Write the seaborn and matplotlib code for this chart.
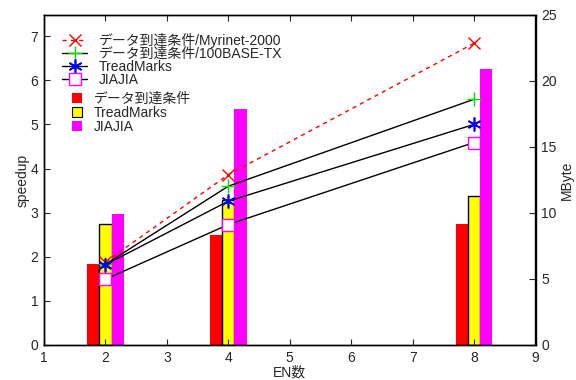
import numpy as np
import pandas as pd
import matplotlib
matplotlib.use("Agg")
import matplotlib.pyplot as plt
from matplotlib.lines import Line2D
from matplotlib.patches import Patch
import seaborn as sns

# ---- data ----
en_counts = [2, 4, 8]
speedup_myrinet = [1.88, 3.86, 6.84]
speedup_100base = [1.83, 3.60, 5.57]
speedup_treadmarks = [1.82, 3.26, 5.00]
speedup_jiajia = [1.49, 2.73, 4.59]

mbyte_condition = [6.1, 8.3, 9.2]
mbyte_treadmarks = [9.2, 11.0, 11.3]
mbyte_jiajia = [9.9, 17.9, 20.9]

line_labels = ["データ到達条件/Myrinet-2000", "データ到達条件/100BASE-TX", "TreadMarks", "JIAJIA"]
bar_labels = ["データ到達条件", "TreadMarks", "JIAJIA"]

sns.set_style("ticks")
plt.rcParams["font.family"] = ["Liberation Sans", "Noto Sans CJK JP", "DejaVu Sans"]
plt.rcParams["font.size"] = 10

fig = plt.figure(figsize=(5.76, 3.8), dpi=100)
ax = fig.add_axes([44 / 576, 1 - 345 / 380, (535.5 - 44) / 576, (345 - 15) / 380])
ax2 = ax.twinx()

# bars on right axis (MByte)
bars_df = pd.DataFrame({
    "EN": en_counts * 3,
    "MB": mbyte_condition + mbyte_treadmarks + mbyte_jiajia,
    "series": [bar_labels[0]] * 3 + [bar_labels[1]] * 3 + [bar_labels[2]] * 3,
})
bar_colors = ["#ff0000", "#ffff00", "#ff00ff"]
sns.barplot(data=bars_df, x="EN", y="MB", hue="series", hue_order=bar_labels,
            palette=bar_colors, native_scale=True, width=0.3, dodge=True,
            saturation=1, ax=ax2, legend=False, linewidth=0)
for p in ax2.patches:
    fc = p.get_facecolor()
    if fc[0] > 0.9 and fc[1] > 0.9 and fc[2] < 0.1:
        p.set_edgecolor("black")
        p.set_linewidth(1.0)

# lines on left axis (speedup), drawn above bars
ax.set_zorder(ax2.get_zorder() + 1)
ax.patch.set_visible(False)

line_df = pd.DataFrame({"EN": en_counts, "myr": speedup_myrinet, "fe": speedup_100base,
                        "tm": speedup_treadmarks, "jj": speedup_jiajia})
sns.lineplot(data=line_df, x="EN", y="myr", ax=ax, color="red", linestyle=(0, (3, 3)),
             linewidth=1.0, marker="x", markersize=8, markeredgewidth=1.0, markeredgecolor="red")
sns.lineplot(data=line_df, x="EN", y="fe", ax=ax, color="black", linewidth=1.0,
             marker="+", markersize=10, markeredgewidth=1.0, markeredgecolor="#00e000")
sns.lineplot(data=line_df, x="EN", y="tm", ax=ax, color="black", linewidth=1.0,
             marker=(6, 2, 0), markersize=10, markeredgewidth=1.2, markeredgecolor="#0000ff")
sns.lineplot(data=line_df, x="EN", y="jj", ax=ax, color="black", linewidth=1.0,
             marker="s", markersize=8, markeredgewidth=1.0, markeredgecolor="#ff00ff",
             markerfacecolor="white")

ax.set_xlim(1, 9)
ax.set_ylim(0, 7.48)
ax2.set_ylim(0, 25)
ax.set_xticks(range(1, 10))
ax.set_yticks(range(0, 8))
ax2.set_yticks(range(0, 26, 5))

ax.set_xlabel("EN数", labelpad=1)
ax.set_ylabel("speedup", labelpad=1)
ax2.set_ylabel("MByte", labelpad=2)

for a in (ax, ax2):
    for s in a.spines.values():
        s.set_visible(True)
        s.set_linewidth(1.0)
        s.set_color("black")
ax.tick_params(axis="both", direction="in", length=4, width=0.8, top=True, pad=4)
ax.tick_params(axis="y", right=False)
ax2.tick_params(axis="y", direction="in", length=4, width=0.8, pad=4)

# legends
line_handles = [
    Line2D([], [], color="red", linestyle=(0, (3, 3)), lw=1.0, marker="x", ms=8, mec="red"),
    Line2D([], [], color="black", lw=1.0, marker="+", ms=10, mec="#00e000"),
    Line2D([], [], color="black", lw=1.0, marker=(6, 2, 0), ms=10, mec="#0000ff", mew=1.2),
    Line2D([], [], color="black", lw=1.0, marker="s", ms=8, mec="#ff00ff", mfc="white"),
]
leg1 = ax.legend(line_handles, line_labels, loc="upper left", frameon=False,
                 bbox_to_anchor=(62 / 576, 1 - 33 / 380), bbox_transform=fig.transFigure,
                 borderpad=0, borderaxespad=0, handlelength=1.8, handletextpad=0.85,
                 labelspacing=-0.08, fontsize=10)
ax.add_artist(leg1)
bar_handles = [
    Patch(facecolor="#ff0000", edgecolor="none"),
    Patch(facecolor="#ffff00", edgecolor="black", linewidth=0.8),
    Patch(facecolor="#ff00ff", edgecolor="none"),
]
leg2 = ax.legend(bar_handles, bar_labels, loc="upper left", frameon=False,
                 bbox_to_anchor=(72 / 576, 1 - 92 / 380), bbox_transform=fig.transFigure,
                 borderpad=0, borderaxespad=0, handlelength=0.7, handleheight=0.7,
                 handletextpad=0.9, labelspacing=0.0, fontsize=10)

fig.savefig("out.png", dpi=100)
